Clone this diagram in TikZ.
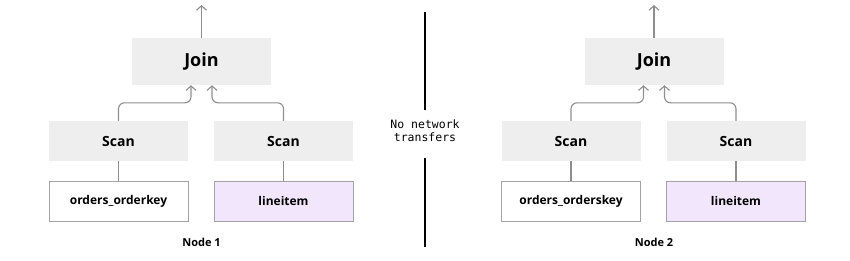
\documentclass[tikz,border=0pt]{standalone}
\usepackage{fontspec}
\setmainfont{Open Sans}
\setmonofont{DejaVu Sans Mono}
\usepackage{xcolor}
\usetikzlibrary{arrows.meta}
\definecolor{opfill}{HTML}{EEEEEE}
\definecolor{tabline}{HTML}{A3A3A3}
\definecolor{lilac}{HTML}{F2E6FD}
\definecolor{wire}{HTML}{8E8E8E}

\begin{document}
\begin{tikzpicture}[x=1pt,y=-1pt,
 op/.style={fill=opfill,minimum width=139pt,minimum height=40pt,inner sep=0pt,
            font=\fontsize{14}{16}\selectfont\bfseries},
 joinop/.style={op,minimum height=47pt,font=\fontsize{18}{21}\selectfont\bfseries},
 table/.style={draw=tabline,line width=1pt,fill=white,minimum width=139pt,
               minimum height=40pt,inner sep=0pt,font=\fontsize{12}{14}\selectfont\bfseries},
 heap/.style={table,fill=lilac},
 flow/.style={draw=wire,line width=1.1pt,rounded corners=6pt,-{Straight Barb[length=4.5pt,width=10pt]}},
 link/.style={draw=wire,line width=1.1pt},
 divider/.style={draw=black,line width=2.2pt}]
 \useasboundingbox (0,0) rectangle (850,260);
 \foreach \dx/\n/\key in {0/1/orders\_orderkey,452.5/2/orders\_orderskey} {
   \node[joinop] (J\n) at (201.5+\dx,61.5) {Join};
   \node[op] (SL\n) at (118.5+\dx,141) {Scan};
   \node[op] (SR\n) at (283.5+\dx,141) {Scan};
   \node[table] (O\n) at (118.5+\dx,201) {\key};
   \node[heap] (L\n) at (283.5+\dx,201) {lineitem};
   \node[font=\fontsize{11}{13}\selectfont\bfseries] (N\n) at (201.5+\dx,242) {Node \n};
   \coordinate (T\n) at (201.5+\dx,5);
   \draw[flow] (J\n.north) -- (T\n);
   \draw[flow] (SL\n.north) -- ++(0,-18) -| ([xshift=-10.5pt]J\n.south);
   \draw[flow] (SR\n.north) -- ++(0,-18) -| ([xshift=10.5pt]J\n.south);
   \draw[link] (SL\n.south) -- (O\n.north);
   \draw[link] (SR\n.south) -- (L\n.north);
 }
 \node[align=center,font=\fontsize{11.5}{13.5}\selectfont\ttfamily] (msg) at (425,130.5)
   {No network\\transfers};
 \coordinate (d1) at (425,12);
 \coordinate (d2) at (425,110);
 \coordinate (d3) at (425,158);
 \coordinate (d4) at (425,247);
 \draw[divider] (d1) -- (d2);
 \draw[divider] (d3) -- (d4);
\end{tikzpicture}
\end{document}
